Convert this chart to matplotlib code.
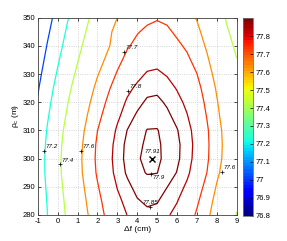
import numpy as np
import matplotlib
matplotlib.use("Agg")
import matplotlib.pyplot as plt
from matplotlib import colors, cm

plt.rcParams['font.family'] = ['Liberation Sans', 'DejaVu Sans']
plt.rcParams['mathtext.fontset'] = 'custom'
plt.rcParams['mathtext.rm'] = 'Liberation Sans'
plt.rcParams['mathtext.it'] = 'Liberation Sans'
plt.rcParams['axes.unicode_minus'] = False

# grid of the map
df = np.arange(-1, 9.01, 0.5)        # delta f (cm), 21 columns
rho = np.arange(280, 350.01, 5)      # rho_c (m), 15 rows

# values, in thousandths above 77 (one row per rho)
eff_mk = [
    [68, 202, 326, 422, 518, 595, 660, 718, 769, 801, 828, 839, 833, 807, 782, 743, 689, 626, 540, 479, 394],
    [78, 213, 337, 435, 532, 610, 676, 733, 785, 818, 846, 858, 854, 828, 803, 765, 713, 650, 565, 502, 419],
    [90, 226, 350, 450, 547, 626, 693, 751, 803, 838, 865, 879, 876, 851, 826, 789, 738, 675, 592, 527, 446],
    [101, 239, 363, 465, 561, 642, 710, 768, 821, 857, 888, 903, 901, 874, 848, 813, 763, 700, 618, 552, 473],
    [101, 241, 364, 468, 564, 647, 716, 774, 827, 864, 896, 909, 907, 890, 859, 825, 776, 714, 634, 566, 489],
    [90, 232, 356, 461, 557, 641, 712, 769, 823, 862, 889, 908, 908, 886, 860, 827, 780, 717, 638, 569, 494],
    [71, 215, 338, 446, 542, 627, 699, 756, 810, 851, 878, 902, 903, 878, 853, 820, 775, 712, 635, 563, 491],
    [43, 188, 311, 421, 517, 603, 676, 734, 788, 830, 858, 879, 880, 861, 835, 804, 760, 697, 621, 548, 478],
    [13, 160, 284, 395, 491, 579, 653, 710, 766, 809, 836, 858, 861, 843, 818, 787, 744, 682, 607, 533, 465],
    [-18, 130, 253, 366, 462, 551, 626, 684, 740, 784, 812, 835, 839, 822, 796, 767, 726, 663, 590, 514, 448],
    [-55, 92, 217, 331, 427, 518, 593, 652, 708, 754, 782, 806, 810, 795, 770, 741, 701, 639, 568, 489, 426],
    [-93, 53, 180, 296, 392, 484, 559, 619, 676, 723, 751, 775, 782, 768, 742, 715, 674, 614, 544, 464, 403],
    [-131, 14, 142, 260, 356, 450, 525, 586, 643, 692, 720, 745, 753, 740, 715, 688, 647, 588, 520, 438, 379],
    [-170, -25, 105, 225, 321, 416, 505, 575, 630, 672, 695, 714, 723, 713, 687, 661, 621, 563, 496, 413, 354],
    [-208, -64, 67, 189, 285, 381, 470, 540, 600, 640, 665, 684, 694, 685, 659, 633, 594, 538, 473, 387, 328],
]
Z = 77 + np.array(eff_mk) / 1000.0

levels = [77.0, 77.2, 77.4, 77.6, 77.7, 77.8, 77.85, 77.9]

# inline contour labels (MATLAB clabel style: '+' and text)
lbl_x = [-0.68, 0.12, 1.18, 3.34, 3.55, 4.68, 4.64, 8.25]
lbl_y = [302.8, 298.0, 302.8, 338.0, 324.1, 294.5, 283.0, 295.4]
lbl_txt = ['77.2', '77.4', '77.6', '77.7', '77.8', '77.9', '77.85', '77.6']

peak_x, peak_y, peak_txt = 4.72, 300.0, '77.91'

cbar_ticks = [76.8, 76.9, 77, 77.1, 77.2, 77.3, 77.4, 77.5, 77.6, 77.7, 77.8]
cbar_labels = ['76.8', '76.9', '77', '77.1', '77.2', '77.3', '77.4', '77.5', '77.6', '77.7', '77.8']

cmap = plt.get_cmap('jet', 64)
norm = colors.Normalize(76.8, 77.9)
line_norm = colors.Normalize(76.8, 77.86)

fig = plt.figure(figsize=(2.87, 2.41), dpi=100)
ax = fig.add_axes([0.1314, 0.1079, 0.6934, 0.8187])
ax.contour(df, rho, Z, levels=levels, cmap=cmap, norm=line_norm, linewidths=0.9)

for x, y, t in zip(lbl_x, lbl_y, lbl_txt):
    ax.plot(x, y, '+', color='k', ms=2.5, mew=0.5)
    if t == '77.9':
        off, ha = (1.0, -2.2), 'left'
    elif t == '77.85':
        off, ha = (0.0, 3.0), 'center'
    else:
        off, ha = (1.0, 2.7), 'left'
    ax.annotate(t, (x, y), xytext=off, textcoords='offset points', ha=ha, va='center',
                fontsize=4.5, style='italic')

ax.plot(peak_x, peak_y, 'kx', ms=5, mew=1)
ax.annotate(peak_txt, (peak_x, peak_y), xytext=(0.3, 4.9), textcoords='offset points',
            ha='center', va='center', fontsize=4.5, style='italic')

ax.set_xlim(-1, 9)
ax.set_ylim(280, 350)
ax.set_xticks(range(-1, 10))
ax.set_yticks(range(280, 351, 10))
ax.grid(True, ls=':', color='#c8c8c8', lw=0.6)
ax.tick_params(direction='in', labelsize=5.5, length=2, width=0.5, top=True, right=True, pad=2)
for s in ax.spines.values():
    s.set_linewidth(0.6)
    s.set_color('#404040')
ax.set_xlabel('Δf (cm)', fontsize=6, labelpad=1)
ax.set_ylabel(r'$\rho_{c}$ (m)', fontsize=6, labelpad=1)

cax = fig.add_axes([0.845, 0.105, 0.0366, 0.819])
cb = fig.colorbar(cm.ScalarMappable(norm=norm, cmap=cmap), cax=cax)
cb.set_ticks(cbar_ticks)
cb.set_ticklabels(cbar_labels)
cax.tick_params(direction='in', labelsize=5.5, length=2, width=0.5, pad=2)
cb.outline.set_linewidth(0.6)
cb.outline.set_edgecolor('#707070')

fig.savefig('out.png', dpi=100)
